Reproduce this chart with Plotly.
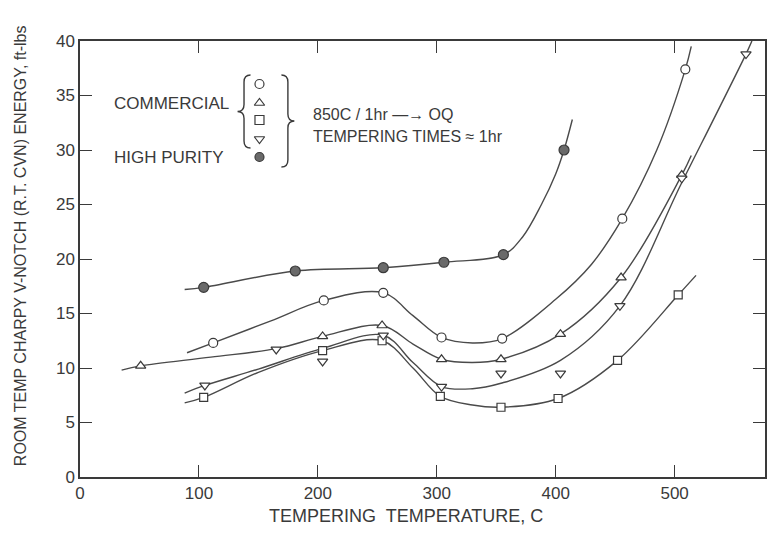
import plotly.graph_objects as go

# ---------------- data ----------------
# High purity (filled circles)
hp_x = [104, 181, 255, 306, 356, 407]
hp_y = [17.4, 18.9, 19.2, 19.7, 20.4, 30.0]
hp_curve_x = [88, 104, 181, 255, 306, 356, 372, 388, 400, 407, 414]
hp_curve_y = [17.2, 17.4, 18.9, 19.2, 19.7, 20.4, 22.0, 25.0, 27.8, 30.0, 32.8]

# Commercial - open circles
ci_x = [112, 205, 255, 304, 355, 456, 509]
ci_y = [12.3, 16.2, 16.9, 12.8, 12.7, 23.7, 37.4]
ci_curve_x = [90, 112, 160, 205, 255, 280, 304, 330, 355, 400, 430, 456, 485, 509, 514]
ci_curve_y = [11.4, 12.3, 14.3, 16.2, 16.9, 14.8, 12.8, 12.3, 12.7, 16.3, 19.5, 23.7, 30.0, 37.4, 39.5]

# Commercial - triangles up
tu_x = [51, 204, 254, 304, 354, 404, 455, 506]
tu_y = [10.2, 12.9, 13.9, 10.8, 10.8, 13.1, 18.3, 27.7]
tu_curve_x = [35, 51, 110, 166, 204, 254, 280, 304, 330, 354, 404, 455, 506, 514]
tu_curve_y = [9.8, 10.2, 11.0, 11.8, 12.9, 13.9, 12.2, 10.8, 10.5, 10.8, 13.1, 18.3, 27.7, 29.5]

# Commercial - squares
sq_x = [104, 204, 254, 303, 354, 402, 452, 503]
sq_y = [7.3, 11.6, 12.5, 7.4, 6.4, 7.2, 10.7, 16.7]
sq_curve_x = [88, 104, 150, 204, 254, 280, 303, 330, 354, 402, 452, 503, 518]
sq_curve_y = [6.8, 7.3, 9.6, 11.6, 12.5, 10.0, 7.4, 6.6, 6.4, 7.2, 10.7, 16.7, 18.5]

# Commercial - triangles down
td_x = [105, 165, 204, 255, 304, 354, 404, 454, 506, 560]
td_y = [8.4, 11.7, 10.6, 13.0, 8.3, 9.5, 9.5, 15.7, 27.4, 38.8]
td_curve_x = [88, 105, 150, 204, 255, 280, 304, 330, 354, 404, 454, 506, 560, 565]
td_curve_y = [7.7, 8.4, 9.9, 11.8, 13.0, 10.5, 8.3, 8.1, 8.6, 10.7, 15.7, 27.0, 38.8, 40.0]

x_ticks = [0, 100, 200, 300, 400, 500]
y_ticks = [0, 5, 10, 15, 20, 25, 30, 35, 40]

# in-plot key
key_symbols = ["circle", "triangle-up", "square", "triangle-down", "circle"]
key_fills = ["white", "white", "white", "white", "#6a6a6a"]

LINE = "#4a4a4a"
INK = "#3a3a3a"
FONT = "Liberation Sans"

# plot-area pixel box
L, R, T, B = 80, 767, 41, 477
def px(xp):
    return (xp - L) / (R - L)
def py(yp):
    return (B - yp) / (B - T)

fig = go.Figure()

curves = [
    (hp_curve_x, hp_curve_y),
    (ci_curve_x, ci_curve_y),
    (tu_curve_x, tu_curve_y),
    (sq_curve_x, sq_curve_y),
    (td_curve_x, td_curve_y),
]
for cx, cy in curves:
    fig.add_trace(go.Scatter(x=cx, y=cy, mode="lines",
                             line=dict(color=LINE, width=1.4, shape="spline", smoothing=1.0),
                             hoverinfo="skip", showlegend=False))

markers = [
    (ci_x, ci_y, "circle", 9, "white"),
    (tu_x, tu_y, "triangle-up", 9, "white"),
    (sq_x, sq_y, "square", 8, "white"),
    (td_x, td_y, "triangle-down", 9, "white"),
    (hp_x, hp_y, "circle", 10, "#6a6a6a"),
]
for mx, my, sym, sz, fill in markers:
    fig.add_trace(go.Scatter(x=mx, y=my, mode="markers",
                             marker=dict(symbol=sym, size=sz, color=fill,
                                         line=dict(color=INK, width=1.2)),
                             showlegend=False))

# key markers on an overlay axis in paper-like units
key_px_x = 260
key_px_y = [84, 103, 120, 139, 157]
fig.add_trace(go.Scatter(x=[px(key_px_x)] * len(key_px_y), y=[py(v) for v in key_px_y],
                         mode="markers", xaxis="x2", yaxis="y2",
                         marker=dict(symbol=key_symbols, size=9, color=key_fills,
                                     line=dict(color=INK, width=1.2)),
                         hoverinfo="skip", showlegend=False))

ann = []
def text(xp, yp, s, size=15, anchor="left", angle=0):
    ann.append(dict(x=px(xp), y=py(yp), xref="paper", yref="paper", text=s,
                    showarrow=False, xanchor=anchor, yanchor="middle", textangle=angle,
                    font=dict(family=FONT, size=size, color=INK)))

text(112, 103, "COMMERCIAL", 17)
text(112, 157, "HIGH PURITY", 17)
text(312, 115, "850C / 1hr —→ OQ", 16)
text(312, 136, "TEMPERING TIMES ≈ 1hr", 16)
text(407, 516, "TEMPERING  TEMPERATURE, C", 18, anchor="center")
text(20, 246, "ROOM TEMP CHARPY V-NOTCH (R.T. CVN) ENERGY, ft-lbs", 16, anchor="center", angle=-90)

fig.update_layout(annotations=ann)

def brace(x_end, x_tip, y0, y1):
    xs = (x_end + x_tip) / 2
    ym = (y0 + y1) / 2
    r = 7
    p = (f"M {px(x_end)} {py(y0)} "
         f"Q {px(xs)} {py(y0)} {px(xs)} {py(y0 + r)} "
         f"L {px(xs)} {py(ym - r)} "
         f"Q {px(xs)} {py(ym)} {px(x_tip)} {py(ym)} "
         f"Q {px(xs)} {py(ym)} {px(xs)} {py(ym + r)} "
         f"L {px(xs)} {py(y1 - r)} "
         f"Q {px(xs)} {py(y1)} {px(x_end)} {py(y1)}")
    return dict(type="path", path=p, xref="paper", yref="paper",
                line=dict(color=INK, width=1.4))

fig.add_shape(brace(251, 238, 75, 148))
fig.add_shape(brace(282, 295, 75, 167))

fig.update_xaxes(range=[0, 576], tickvals=x_ticks, ticks="inside", ticklen=12,
                 tickwidth=1.3, tickcolor=INK, showline=True, linecolor=INK,
                 linewidth=1.5, mirror="ticks", showgrid=False, zeroline=False,
                 tickfont=dict(family=FONT, size=17, color=INK))
fig.update_yaxes(range=[0, 40], tickvals=y_ticks, ticks="inside", ticklen=12,
                 tickwidth=1.3, tickcolor=INK, showline=True, linecolor=INK,
                 linewidth=1.5, mirror="ticks", showgrid=False, zeroline=False,
                 tickfont=dict(family=FONT, size=17, color=INK))

fig.update_layout(
    width=774, height=538, margin=dict(l=L, r=774 - R, t=T, b=538 - B),
    plot_bgcolor="white", paper_bgcolor="white",
    xaxis2=dict(overlaying="x", range=[0, 1], visible=False, fixedrange=True),
    yaxis2=dict(overlaying="y", range=[0, 1], visible=False, fixedrange=True),
)

fig.write_html("out.html")
